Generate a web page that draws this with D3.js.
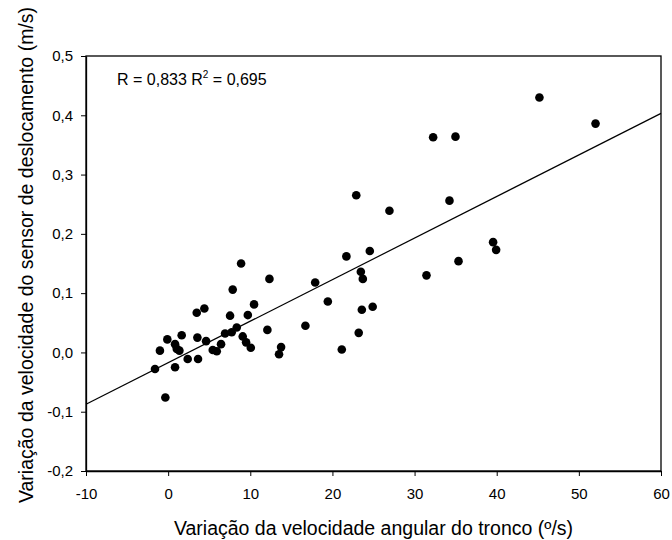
<!DOCTYPE html>
<html><head><meta charset="utf-8">
<script src="https://cdn.jsdelivr.net/npm/d3@7"></script>
<style>body{margin:0;background:#fff}svg{display:block}text{font-family:"Liberation Sans",Arial,sans-serif}</style>
</head><body>
<svg id="c" width="672" height="540"></svg>
<script>
const xVals = [-1.6,-1.0,-0.34,-0.1,0.84,0.84,1.05,1.37,1.65,2.38,3.48,3.56,3.64,4.41,4.62,5.43,5.92,6.44,6.93,7.54,7.74,7.86,8.35,8.88,9.08,9.49,9.70,10.06,10.46,12.08,12.33,13.5,13.75,16.71,17.9,19.44,21.14,21.7,23.2,23.46,23.7,23.58,24.55,24.9,22.9,45.2,52.03,32.26,34.98,34.25,26.94,39.56,39.93,31.45,35.35];
const yVals = [-0.028,0.003,-0.076,0.022,0.014,-0.025,0.006,0.003,0.029,-0.011,0.067,0.025,-0.011,0.074,0.019,0.004,0.002,0.014,0.032,0.062,0.034,0.106,0.042,0.150,0.027,0.017,0.063,0.008,0.081,0.038,0.124,-0.003,0.009,0.045,0.118,0.086,0.005,0.162,0.033,0.136,0.124,0.072,0.171,0.077,0.265,0.430,0.386,0.363,0.364,0.256,0.239,0.186,0.173,0.130,0.154];
const fitIntercept = -0.0174, fitSlope = 0.00701;
const xTicks = [-10,0,10,20,30,40,50,60];
const yTicks = [-0.2,-0.1,0.0,0.1,0.2,0.3,0.4,0.5];
const xLabel = "Variação da velocidade angular do tronco (º/s)";
const yLabel = "Variação da velocidade do sensor de deslocamento (m/s)";
const annotation = "R = 0,833 R";

const svg = d3.select("#c");
const L=86, R=661, T=56, B=471;
const x = d3.scaleLinear().domain([-10,60]).range([L,R]);
const y = d3.scaleLinear().domain([-0.2,0.5]).range([B,T]);
const fmt = d => d3.format(".1f")(d).replace(".",",").replace("−","-");

svg.append("rect").attr("x",L).attr("y",T).attr("width",R-L).attr("height",B-T)
  .attr("fill","none").attr("stroke","#000").attr("stroke-width",1.3);

const gx = svg.append("g").attr("transform",`translate(0,${B})`)
  .call(d3.axisBottom(x).tickValues(xTicks).tickSize(5).tickSizeOuter(0).tickPadding(12).tickFormat(d=>String(d)));
const gy = svg.append("g").attr("transform",`translate(${L},0)`)
  .call(d3.axisLeft(y).tickValues(yTicks).tickSize(5).tickSizeOuter(0).tickPadding(8).tickFormat(fmt));
[gx,gy].forEach(g=>{g.select(".domain").attr("stroke","#000").attr("stroke-width",1.3);
  g.selectAll("text").attr("font-size",15).attr("fill","#000").style("font-family","'Liberation Sans',Arial,sans-serif");
  g.selectAll("line").attr("stroke","#000");});

svg.append("line")
  .attr("x1",x(-10)).attr("y1",y(fitIntercept+fitSlope*-10))
  .attr("x2",x(60)).attr("y2",y(fitIntercept+fitSlope*60))
  .attr("stroke","#000").attr("stroke-width",1.2);

svg.append("g").selectAll("circle").data(xVals.map((v,i)=>[v,yVals[i]])).join("circle")
  .attr("cx",d=>x(d[0])).attr("cy",d=>y(d[1])).attr("r",4.3).attr("fill","#000");

const t = svg.append("text").attr("x",117).attr("y",85).attr("font-size",16).attr("fill","#000");
t.append("tspan").text(annotation);
t.append("tspan").attr("dy",-7).attr("font-size",10).text("2");
t.append("tspan").attr("dy",7).text(" = 0,695");

svg.append("text").attr("x",(L+R)/2).attr("y",535).attr("text-anchor","middle")
  .attr("font-size",19.5).attr("fill","#000").text(xLabel);
svg.append("text").attr("transform",`translate(33,255) rotate(-90)`).attr("text-anchor","middle")
  .attr("font-size",19.5).attr("fill","#000").text(yLabel);
</script>
</body></html>
